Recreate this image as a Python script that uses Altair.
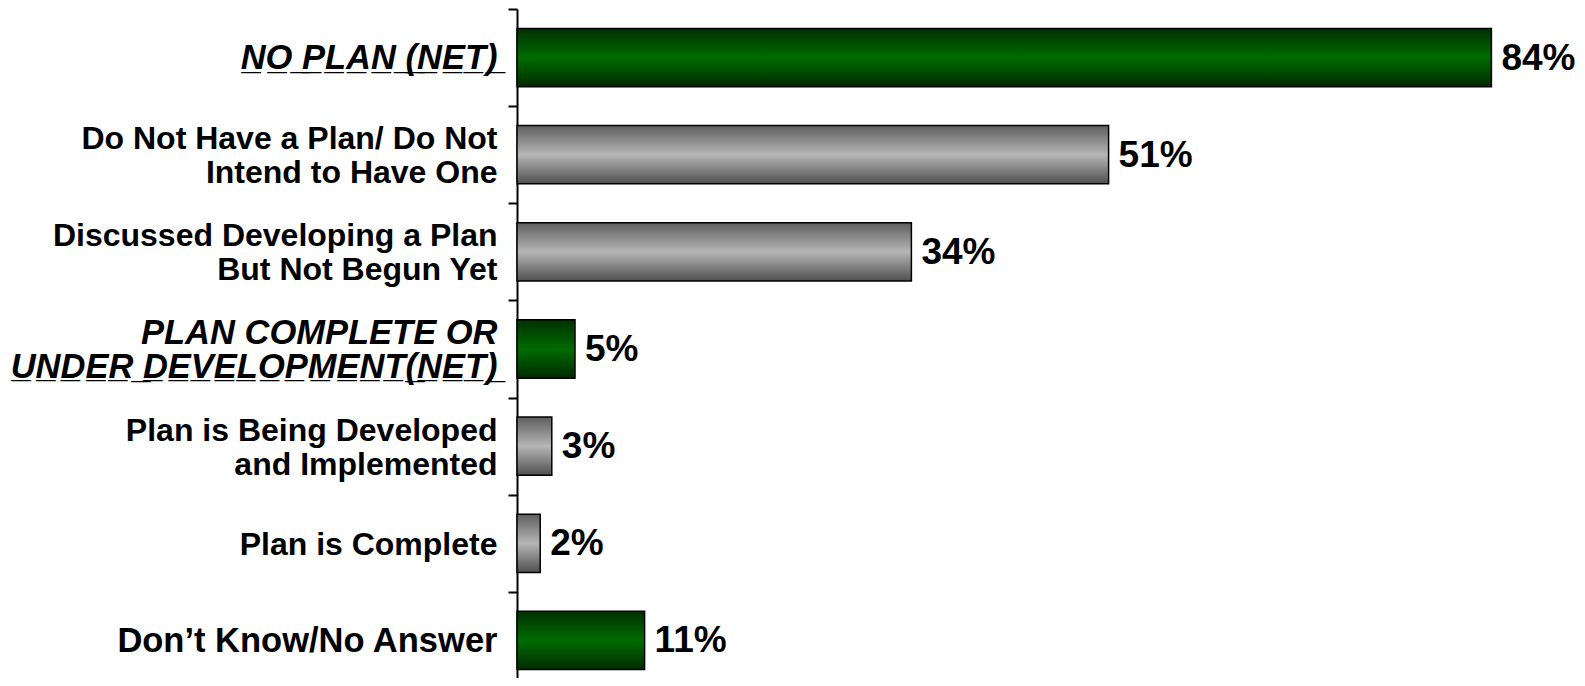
import altair as alt
import pandas as pd

categories = [
    "NO PLAN (NET)",
    "Do Not Have a Plan/ Do Not\nIntend to Have One",
    "Discussed Developing a Plan\nBut Not Begun Yet",
    "PLAN COMPLETE OR\nUNDER DEVELOPMENT(NET)",
    "Plan is Being Developed\nand Implemented",
    "Plan is Complete",
    "Don\u2019t Know/No Answer",
]
values = [84, 51, 34, 5, 3, 2, 11]
groups = ["green", "gray", "gray", "green", "gray", "gray", "green"]
value_labels = ["84%", "51%", "34%", "5%", "3%", "2%", "11%"]


def underline_net(text):
    lines = text.split("\n")
    out = []
    for ln in lines:
        if "(NET)" in ln:
            ln = "".join(ch + "\u0332" for ch in ln)
        out.append(ln)
    return "\n".join(out)


display = [underline_net(c) for c in categories]
df = pd.DataFrame({"cat": display, "amount": values, "grp": groups, "lab": value_labels})

FONT = "Liberation Sans"

green_grad = alt.LinearGradient(
    gradient="linear", x1=0, y1=0, x2=0, y2=1,
    stops=[
        alt.GradientStop(offset=0, color="#003000"),
        alt.GradientStop(offset=0.5, color="#006c00"),
        alt.GradientStop(offset=1, color="#002a00"),
    ],
)
gray_grad = alt.LinearGradient(
    gradient="linear", x1=0, y1=0, x2=0, y2=1,
    stops=[
        alt.GradientStop(offset=0, color="#5e5e5e"),
        alt.GradientStop(offset=0.5, color="#b6b6b6"),
        alt.GradientStop(offset=1, color="#505050"),
    ],
)

is_big = "isString(datum.value) && (indexof(datum.value, '(') >= 0 || indexof(datum.value, 'Know') >= 0)"
is_net = "isString(datum.value) && indexof(datum.value, '(') >= 0"
is_multi = "isString(datum.value) && indexof(datum.value, '\\n') >= 0"

y_enc = alt.Y(
    "cat:N",
    sort=display,
    title=None,
    scale=alt.Scale(range=[0, 680], paddingInner=0, paddingOuter=0),
    axis=alt.Axis(
        labelExpr="isString(datum.label) ? split(datum.label, '\\n') : ''",
        labelFont=FONT,
        labelFontSize={"condition": {"test": is_big, "value": 34.5}, "value": 32},
        labelFontWeight="bold",
        labelColor="black",
        labelLineHeight=34,
        labelLimit=0,
        labelPadding=11,
        labelOffset={"condition": {"test": is_multi, "value": -16}, "value": 1},
        labelFontStyle={"condition": {"test": is_net, "value": "italic"}, "value": "normal"},
        tickBand="extent",
        tickSize=9,
        tickWidth=2,
        tickColor="black",
        domainColor="black",
        domainWidth=2,
        grid=False,
    ),
)
x_enc = alt.X("amount:Q", scale=alt.Scale(domain=[0, 90], nice=False), axis=None)

base = alt.Chart(df)

green_bars = base.transform_filter(alt.datum.grp == "green").mark_bar(
    color=green_grad, stroke="black", strokeWidth=1.5, height=alt.RelativeBandSize(0.6)
).encode(x=x_enc, y=y_enc)

gray_bars = base.transform_filter(alt.datum.grp == "gray").mark_bar(
    color=gray_grad, stroke="black", strokeWidth=1.5, height=alt.RelativeBandSize(0.6)
).encode(x=x_enc, y=y_enc)

texts = base.mark_text(
    align="left", baseline="middle", dx=10, dy=1, fontSize=37, fontWeight="bold", font=FONT, color="black"
).encode(x=x_enc, y=y_enc, text="lab:N")

chart = (
    alt.layer(green_bars, gray_bars, texts)
    .properties(
        width=1044,
        height=669,
        padding={"left": 509, "top": 1, "right": 16, "bottom": 0},
        autosize=alt.AutoSizeParams(type="none"),
    )
    .configure_view(strokeWidth=0)
)

chart.save("out.html", embed_options={"renderer": "svg", "actions": False})
